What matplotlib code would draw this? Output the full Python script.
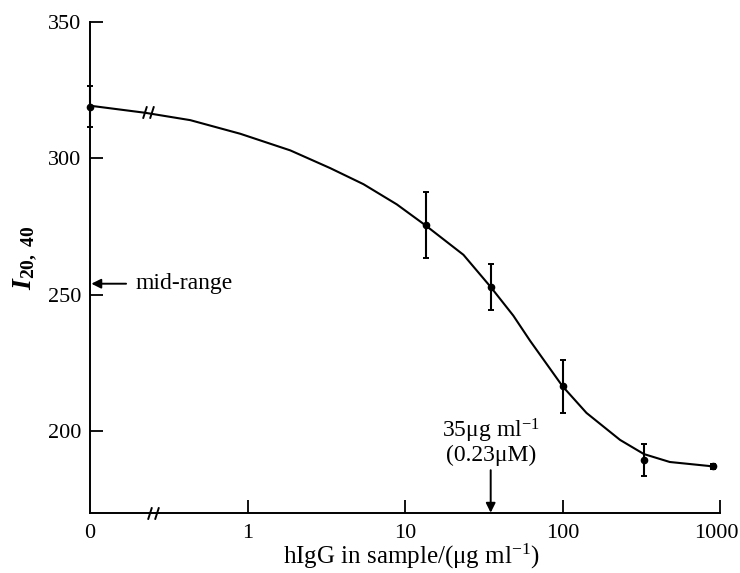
import numpy as np
import matplotlib.pyplot as plt
from matplotlib.path import Path
from matplotlib.transforms import ScaledTranslation

# --- dados ---
hIgG = [0, 13.5, 35, 100, 330, 900]          # µg/ml
I_2040 = [319, 275.5, 252.8, 216.4, 189.4, 187.0]
erro = [7.5, 12, 8.5, 9.7, 5.8, 1.0]

# curva ajustada (pontos lidos ao longo da linha)
curva_x = [0, 0.224, 0.433, 0.90, 1.87, 3.35, 5.45, 8.87, 13.5, 23.5, 35,
           48.7, 62.2, 100, 142, 232, 329, 480, 865]
curva_y = [319.3, 316.7, 314, 309, 302.9, 296.4, 290.5, 283.1, 275.4, 264.6,
           252.8, 242.3, 233.1, 216.4, 206.6, 196.7, 191.5, 188.6, 187.1]

x_ticks = [0, 1, 10, 100, 1000]
x_tick_labels = ['0', '1', '10', '100', '1000']
y_ticks = [200, 250, 300, 350]

MID_RANGE = 254
MARCA_35 = 35

# posição onde o "0" fica no eixo log (eixo quebrado)
POS_ZERO = 0.1
POS_QUEBRA = 0.235


def pos(x):
    x = np.asarray(x, dtype=float)
    return np.where(x == 0, POS_ZERO, x)


plt.rcParams['font.family'] = ['Liberation Serif', 'DejaVu Serif']
plt.rcParams['mathtext.fontset'] = 'custom'
plt.rcParams['mathtext.rm'] = 'Liberation Serif'
plt.rcParams['mathtext.it'] = 'Liberation Serif:italic:bold'
plt.rcParams['mathtext.bf'] = 'Liberation Serif:bold'

fig = plt.figure(figsize=(7.4, 5.73), dpi=100)
ax = fig.add_axes([90 / 740, 1 - 512.7 / 573, 630 / 740, (512.7 - 22) / 573])

ax.set_xscale('log')
ax.set_xlim(POS_ZERO, 1000)
ax.set_ylim(170, 350)

ax.plot(pos(curva_x), curva_y, color='black', lw=1.5, clip_on=False,
        solid_joinstyle='round')
ax.errorbar(pos(hIgG), I_2040, yerr=erro, fmt='o', color='black', ms=4.5,
            elinewidth=1.5, capsize=2.5, capthick=1.4, clip_on=False, zorder=3)

# marcas de quebra "//"
quebra = Path([(-2.2, -2.5), (-0.6, 2.5), (0.6, -2.5), (2.2, 2.5)],
              [Path.MOVETO, Path.LINETO, Path.MOVETO, Path.LINETO])
ax.plot([POS_QUEBRA * 1.07], [170], marker=quebra, ms=9, mew=1.4,
        color='black', clip_on=False, zorder=4)
ax.plot([POS_QUEBRA], [316.9], marker=quebra, ms=9, mew=1.4,
        color='black', clip_on=False, zorder=4)

# eixos
for lado in ['top', 'right']:
    ax.spines[lado].set_visible(False)
for lado in ['left', 'bottom']:
    ax.spines[lado].set_linewidth(1.4)

ax.set_xticks(pos(x_ticks))
ax.set_xticklabels(x_tick_labels)
ax.xaxis.set_minor_locator(plt.NullLocator())
ax.set_yticks(y_ticks)
ax.tick_params(direction='in', length=9.5, width=1.3, labelsize=16, pad=6)
ax.tick_params(axis='x', pad=8)
ax.xaxis.get_major_ticks()[0].tick1line.set_visible(False)

# puxa o "1000" um pouco para dentro para não cortar na borda
ultimo = ax.get_xticklabels()[-1]
ultimo.set_transform(ultimo.get_transform() +
                     ScaledTranslation(-4 / 100, 0, fig.dpi_scale_trans))

ax.set_xlabel('hIgG in sample/(μg ml$^{-1}$)', fontsize=18, va='center')
ax.xaxis.set_label_coords(0.51, -0.09)
ax.set_ylabel(r'$I_{\mathbf{20,\ 40}}$', fontsize=20, va='center')
ax.yaxis.set_label_coords(-0.103, 0.52)

# anotações
ax.annotate('mid-range', xy=(POS_ZERO * 1.02, MID_RANGE), xycoords='data',
            xytext=(32, 0), textcoords='offset points', ha='left', va='center',
            fontsize=17,
            arrowprops=dict(arrowstyle='-|>', color='black', lw=1.4,
                            mutation_scale=14, shrinkA=5, shrinkB=0))

ax.annotate('', xy=(MARCA_35, 170), xytext=(MARCA_35, 185.6),
            arrowprops=dict(arrowstyle='-|>', color='black', lw=1.4,
                            mutation_scale=14, shrinkA=0, shrinkB=0))
ax.text(MARCA_35, 187.3, '35μg ml$^{-1}$\n(0.23μM)', ha='center', va='bottom',
        fontsize=17, linespacing=0.95)

fig.savefig('out.png', dpi=100)
